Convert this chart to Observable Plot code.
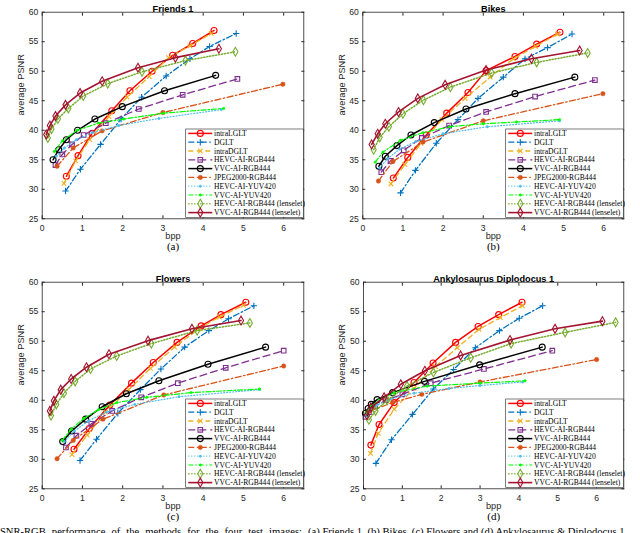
<!DOCTYPE html>
<html><head><meta charset="utf-8">
<script src="https://cdn.jsdelivr.net/npm/d3@7"></script>
<script src="https://cdn.jsdelivr.net/npm/@observablehq/plot@0.6"></script>
<style>
body{margin:0;background:#fff;}
#root{position:relative;width:640px;height:533px;overflow:hidden;background:#fff;}
.panel{position:absolute;}
#caption{position:absolute;left:-6px;top:526px;white-space:nowrap;font:10.6px "Liberation Serif","Times New Roman",serif;color:#000;}
</style></head><body><div id="root"><div id="caption"><span id="capPre">PSNR-RGB performance of the methods for the four test images: </span>(a) Friends 1, (b) Bikes, (c) Flowers and (d) Ankylosaurus &amp; Diplodocus 1.</div></div>
<script>
// ---- Series definitions ----
const seriesNames = ["intraLGLT","DGLT","intraDGLT","HEVC-AI-RGB444","VVC-AI-RGB444","JPEG2000-RGB444","HEVC-AI-YUV420","VVC-AI-YUV420","HEVC-AI-RGB444 (lenselet)","VVC-AI-RGB444 (lenselet)"];
const seriesColors = ["#ff0000","#0072bd","#edb120","#7e2f8e","#000000","#d95319","#4dbeee","#00ff00","#77ac30","#a2142f"];
const seriesDash = [null,"6,2.5,1.5,2.5","5,3.5","7,4",null,"6,2.5,1.5,2.5","1,2","5,2,1.5,2","1.2,1.8",null];
const seriesWidth = [1.5,1.3,1.3,1.3,1.5,1.3,1.2,1.2,1.5,1.6];
const seriesSymbol = ["circle","plus","times","square","circle","dot","dot","dot","diamond","diamond"];

const xTicks = [0,1,2,3,4,5,6];
const yTicks = [25,30,35,40,45,50,55,60];

// ---- (a) Friends 1 ----
const fr_intraLGLT = [[0.6,32.2],[0.89,35.7],[1.24,39.5],[1.73,43.3],[2.18,46.7],[2.73,50.0],[3.24,52.7],[3.74,54.7],[4.27,56.9]];
const fr_DGLT = [[0.58,29.7],[0.95,33.4],[1.45,37.6],[1.96,41.9],[2.47,45.6],[3.08,49.2],[3.67,52.1],[4.16,54.2],[4.82,56.4]];
const fr_intraDGLT = [[0.54,31.0],[0.83,34.8],[1.18,38.4],[1.66,42.3],[2.11,45.6],[2.66,49.1],[3.14,52.3],[3.67,54.3],[4.2,56.4]];
const fr_hevcRGB = [[0.33,34.1],[0.5,35.9],[0.74,37.6],[1.03,39.2],[1.58,41.2],[2.4,43.6],[3.49,46.0],[4.85,48.7]];
const fr_vvcRGB = [[0.27,35.0],[0.41,36.7],[0.6,38.4],[0.88,40.0],[1.31,41.9],[1.99,44.0],[3.04,46.7],[4.31,49.3]];
const fr_jpeg = [[0.37,33.9],[0.77,37.0],[1.49,39.9],[3.0,43.0],[5.98,47.8]];
const fr_hevcYUV = [[0.35,35.6],[0.55,37.0],[0.85,38.4],[1.25,39.6],[1.9,40.8],[2.9,42.0],[4.45,43.5]];
const fr_vvcYUV = [[0.3,36.4],[0.5,38.2],[0.87,40.0],[1.4,41.2],[2.03,41.9],[3.02,42.9],[4.51,43.7]];
const fr_hevcLens = [[0.14,38.7],[0.23,40.2],[0.39,41.9],[0.65,43.7],[1.02,45.8],[1.63,47.9],[2.48,49.9],[3.56,51.8],[4.8,53.3]];
const fr_vvcLens = [[0.1,39.3],[0.19,40.8],[0.33,42.4],[0.58,44.3],[0.94,46.3],[1.49,48.3],[2.38,50.6],[3.31,52.3],[4.39,53.8]];

// ---- (b) Bikes ----
const bk_intraLGLT = [[0.76,31.9],[1.12,35.4],[1.58,39.2],[2.09,42.9],[2.62,46.4],[3.07,50.1],[3.79,52.5],[4.33,54.6],[4.91,56.6]];
const bk_DGLT = [[0.94,29.4],[1.31,33.2],[1.83,37.8],[2.37,41.8],[2.87,45.4],[3.5,49.0],[4.04,52.1],[4.6,54.0],[5.21,56.3]];
const bk_intraDGLT = [[0.7,30.9],[1.05,34.2],[1.45,37.8],[1.97,41.8],[2.55,45.4],[3.17,49.0],[3.75,52.1],[4.3,54.2],[4.85,56.3]];
const bk_hevcRGB = [[0.46,32.9],[0.69,34.8],[1.02,36.6],[1.47,38.7],[2.15,40.8],[3.07,43.1],[4.29,45.7],[5.78,48.5]];
const bk_vvcRGB = [[0.4,33.9],[0.56,35.6],[0.85,37.4],[1.2,39.2],[1.78,41.3],[2.57,43.6],[3.79,46.2],[5.28,49.0]];
const bk_jpeg = [[0.39,31.4],[0.75,34.7],[1.5,38.0],[3.0,41.6],[5.98,46.2]];
const bk_hevcYUV = [[0.42,33.6],[0.62,35.2],[0.92,36.8],[1.32,38.1],[2.0,39.4],[3.1,40.6],[4.9,41.6]];
const bk_vvcYUV = [[0.31,34.6],[0.5,36.3],[0.94,38.3],[1.5,39.6],[2.17,40.6],[3.0,41.1],[3.83,41.4],[4.9,41.8]];
const bk_hevcLens = [[0.27,36.7],[0.42,38.8],[0.65,40.6],[1.0,42.8],[1.51,45.1],[2.18,47.3],[3.21,49.7],[4.33,51.5],[5.6,53.1]];
const bk_vvcLens = [[0.22,37.6],[0.37,39.4],[0.56,41.1],[0.89,43.1],[1.37,45.4],[2.05,47.7],[3.07,50.2],[4.2,52.1],[5.4,53.5]];

// ---- (c) Flowers ----
const fl_intraLGLT = [[0.79,31.7],[1.17,35.2],[1.68,39.2],[2.22,42.9],[2.76,46.4],[3.35,49.8],[3.95,52.6],[4.44,54.5],[5.06,56.6]];
const fl_DGLT = [[0.94,29.8],[1.35,33.4],[1.88,37.8],[2.44,41.8],[2.95,45.3],[3.54,49.0],[4.14,51.8],[4.63,53.8],[5.26,56.0]];
const fl_intraDGLT = [[0.74,30.8],[1.12,34.1],[1.57,38.0],[2.15,41.8],[2.69,45.4],[3.29,49.0],[3.89,52.1],[4.4,54.1],[5.0,56.1]];
const fl_hevcRGB = [[0.59,32.0],[0.85,34.0],[1.22,36.0],[1.74,38.2],[2.46,40.5],[3.37,42.9],[4.56,45.5],[6.0,48.4]];
const fl_vvcRGB = [[0.51,33.0],[0.73,34.8],[1.08,36.8],[1.49,38.9],[2.09,41.1],[2.9,43.3],[4.12,46.1],[5.55,49.0]];
const fl_jpeg = [[0.37,30.1],[0.77,33.2],[1.51,36.8],[3.02,40.9],[6.0,45.8]];
const fl_hevcYUV = [[0.55,33.0],[0.8,34.8],[1.15,36.5],[1.6,38.0],[2.3,39.3],[3.4,40.6],[5.4,41.8]];
const fl_vvcYUV = [[0.5,33.2],[0.72,35.1],[1.03,36.9],[1.4,38.4],[1.86,39.6],[2.6,40.5],[3.7,41.3],[5.4,41.9]];
const fl_hevcLens = [[0.22,37.4],[0.35,39.3],[0.54,41.2],[0.82,43.2],[1.2,45.3],[1.85,47.5],[2.71,49.6],[3.85,51.8],[5.16,53.1]];
const fl_vvcLens = [[0.19,38.2],[0.29,39.9],[0.46,41.8],[0.72,43.6],[1.1,45.6],[1.66,47.8],[2.63,50.1],[3.72,52.1],[4.94,53.5]];

// ---- (d) Ankylosaurus Diplodocus 1 ----
const an_intraLGLT = [[0.19,32.4],[0.4,35.9],[0.79,39.6],[1.3,43.0],[1.79,46.3],[2.37,49.8],[2.95,52.5],[3.48,54.5],[4.08,56.6]];
const an_DGLT = [[0.32,29.3],[0.72,33.3],[1.26,37.6],[1.8,41.9],[2.32,45.2],[2.88,48.9],[3.5,51.8],[4.01,53.9],[4.61,56.0]];
const an_intraDGLT = [[0.18,31.0],[0.38,34.4],[0.79,38.5],[1.3,42.0],[1.85,45.7],[2.41,48.9],[2.97,52.0],[3.52,54.0],[4.09,56.0]];
const an_hevcRGB = [[0.05,37.2],[0.14,38.0],[0.3,39.0],[0.57,40.0],[1.0,41.0],[1.73,42.9],[3.1,45.3],[4.86,48.4]];
const an_vvcRGB = [[0.05,37.8],[0.12,38.6],[0.2,39.3],[0.35,40.1],[0.75,41.3],[1.57,43.2],[2.99,46.0],[4.6,49.0]];
const an_jpeg = [[0.17,38.2],[0.75,39.6],[1.5,41.0],[3.0,43.1],[6.0,46.9]];
const an_hevcYUV = [[0.05,37.3],[0.15,38.2],[0.35,39.2],[0.7,40.2],[1.3,41.2],[2.2,42.0],[3.0,42.5],[4.1,43.1]];
const an_vvcYUV = [[0.06,37.9],[0.2,39.0],[0.4,40.0],[0.79,41.3],[1.64,42.4],[3.0,42.9],[4.16,43.3]];
const an_hevcLens = [[0.14,36.7],[0.31,38.2],[0.61,40.0],[1.12,42.4],[1.8,44.7],[2.76,47.2],[3.8,49.6],[5.19,51.5],[6.49,53.2]];
const an_vvcLens = [[0.09,37.5],[0.19,38.8],[0.53,40.5],[0.96,42.7],[1.58,45.0],[2.5,47.6],[3.77,50.2],[4.93,52.1],[6.15,53.4]];

const panels = [
  {title:"Friends 1", tag:"(a)", left:0, top:0, mL:41.7, xMax:6.5,
   series:[fr_intraLGLT,fr_DGLT,fr_intraDGLT,fr_hevcRGB,fr_vvcRGB,fr_jpeg,fr_hevcYUV,fr_vvcYUV,fr_hevcLens,fr_vvcLens]},
  {title:"Bikes", tag:"(b)", left:320, top:0, mL:42.3, xMax:6.5,
   series:[bk_intraLGLT,bk_DGLT,bk_intraDGLT,bk_hevcRGB,bk_vvcRGB,bk_jpeg,bk_hevcYUV,bk_vvcYUV,bk_hevcLens,bk_vvcLens]},
  {title:"Flowers", tag:"(c)", left:0, top:270, mL:41.7, xMax:6.5,
   series:[fl_intraLGLT,fl_DGLT,fl_intraDGLT,fl_hevcRGB,fl_vvcRGB,fl_jpeg,fl_hevcYUV,fl_vvcYUV,fl_hevcLens,fl_vvcLens]},
  {title:"Ankylosaurus Diplodocus 1", tag:"(d)", left:320, top:270, mL:43, xMax:6.7,
   series:[an_intraLGLT,an_DGLT,an_intraDGLT,an_hevcRGB,an_vvcRGB,an_jpeg,an_hevcYUV,an_vvcYUV,an_hevcLens,an_vvcLens]}
];

const W = 320, H = 260, mR = 16.7, mT = 11.7, mB = 41.7;
const axisColor = "#262626";
const sans = "'Liberation Sans', Arial, Helvetica, sans-serif";
const serif = "'Liberation Serif', 'Times New Roman', serif";

function dotOpts(i) {
  const s = seriesSymbol[i], c = seriesColors[i];
  if (s === "dot") {
    const big = i === 5;
    return {symbol:"circle", r: big ? 2.2 : 1.2, fill:c, stroke:c, strokeWidth:0.5};
  }
  const r = s === "diamond" ? 2.7 : s === "square" ? 2.6 : s === "circle" ? 3 : 2.2;
  return {symbol:s, r, fill:"none", stroke:c, strokeWidth:1.1};
}

function legend(svg) {
  const fx1 = W - mR, fy1 = H - mB;
  const bw = 117.6, bh = 88.3;
  const x0 = fx1 - bw, y0 = fy1 - 1 - bh;
  const g = d3.select(svg).append("g").attr("text-anchor","start");
  g.append("rect").attr("x",x0).attr("y",y0).attr("width",bw).attr("height",bh)
    .attr("fill","#fff").attr("stroke",axisColor).attr("stroke-width",0.6);
  const symMap = {circle:d3.symbolCircle, plus:d3.symbolPlus, times:d3.symbolTimes, square:d3.symbolSquare, diamond:d3.symbolDiamond};
  seriesNames.forEach((name,i)=>{
    const y = y0 + 4.4 + i*8.8;
    g.append("line").attr("x1",x0+2.6).attr("x2",x0+26.6).attr("y1",y).attr("y2",y)
      .attr("stroke",seriesColors[i]).attr("stroke-width",seriesWidth[i])
      .attr("stroke-dasharray",seriesDash[i]);
    const o = dotOpts(i);
    g.append("path").attr("transform",`translate(${x0+14.6},${y})`)
      .attr("d", d3.symbol(symMap[o.symbol], o.r*o.r*Math.PI)())
      .attr("fill",o.fill).attr("stroke",o.stroke).attr("stroke-width",o.strokeWidth);
    g.append("text").attr("x",x0+28.4).attr("y",y).attr("dy","0.34em").attr("text-anchor","start")
      .attr("font-family",serif).attr("font-size","7.6px").attr("fill","#000").text(name);
  });
}

const root = document.getElementById("root");
panels.forEach(p => {
  const marks = [];
  p.series.forEach((pts,i) => {
    const data = pts.map(([x,y]) => ({x,y}));
    marks.push(Plot.line(data, {x:"x", y:"y", stroke:seriesColors[i], strokeWidth:seriesWidth[i], strokeDasharray:seriesDash[i]}));
    marks.push(Plot.dot(data, {x:"x", y:"y", ...dotOpts(i)}));
  });
  const fmt = d3.format("d");
  const svg = Plot.plot({
    width: W, height: H,
    marginLeft: p.mL, marginRight: mR, marginTop: mT, marginBottom: mB,
    style: {fontFamily: sans, fontSize: "8.6px", color: axisColor, background: "transparent"},
    x: {domain:[0,p.xMax], label:null},
    y: {domain:[25,60], label:null},
    marks: [
      ...marks,
      Plot.frame({stroke:axisColor, strokeWidth:0.8}),
      Plot.axisX({ticks:xTicks, tickSize:0, tickPadding:6, tickFormat:fmt, label:null, fill:axisColor}),
      Plot.axisX({ticks:xTicks, tickSize:-3, tickFormat:()=>"", label:null, stroke:axisColor}),
      Plot.axisX({anchor:"top", ticks:xTicks, tickSize:-3, tickFormat:()=>"", label:null, stroke:axisColor}),
      Plot.axisY({ticks:yTicks, tickSize:0, tickPadding:4, tickFormat:fmt, label:null, fill:axisColor}),
      Plot.axisY({ticks:yTicks, tickSize:-3, tickFormat:()=>"", label:null, stroke:axisColor}),
      Plot.axisY({anchor:"right", ticks:yTicks, tickSize:-3, tickFormat:()=>"", label:null, stroke:axisColor}),
      Plot.text([p.title], {text:d=>d, frameAnchor:"top", dy:-7, fontWeight:"bold", fontSize:9.2, fill:"#000"}),
      Plot.text(["bpp"], {text:d=>d, frameAnchor:"bottom", dy:20, fontSize:9.2, fill:axisColor}),
      Plot.text(["average PSNR"], {text:d=>d, frameAnchor:"left", dx:-21, rotate:-90, fontSize:9.2, fill:axisColor}),
      Plot.text([p.tag], {text:d=>d, frameAnchor:"bottom", dy:31, fontSize:11, fontFamily:serif, fill:"#000"})
    ]
  });
  legend(svg);
  const wrap = document.createElement("div");
  wrap.className = "panel";
  wrap.style.left = p.left + "px";
  wrap.style.top = p.top + "px";
  wrap.appendChild(svg);
  root.appendChild(wrap);
});

// align caption words with the reference ("(a)" starts near x = 308)
const pre = document.getElementById("capPre");
const spaces = (pre.textContent.match(/ /g) || []).length;
const want = 308 + 6;
const w = pre.getBoundingClientRect().width;
pre.style.wordSpacing = Math.max(0, (want - w) / spaces) + "px";
</script>
</body></html>
